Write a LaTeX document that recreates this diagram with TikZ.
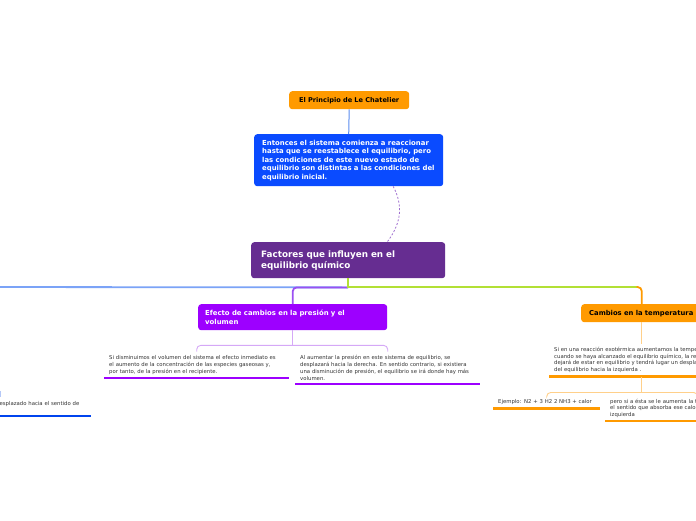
\documentclass[tikz,border=0pt]{standalone}
\usepackage{fontspec}
\setmainfont{DejaVu Sans}
\usetikzlibrary{calc}
\definecolor{cOrange}{HTML}{FF9A00}
\definecolor{cBlue}{HTML}{0A4BFF}
\definecolor{cMain}{HTML}{662D91}
\definecolor{cViolet}{HTML}{9D00FF}
\definecolor{cLineBlue}{HTML}{7BA3F7}
\definecolor{cLineViolet}{HTML}{9B50F2}
\definecolor{cLineGreen}{HTML}{B2E035}
\definecolor{cTopLine}{HTML}{5B8DEF}
\definecolor{cDash}{HTML}{A070D0}
\definecolor{cBrkViolet}{HTML}{D5A8F7}
\definecolor{cBrkOrange}{HTML}{FFD08A}
\definecolor{cBrkBlue}{HTML}{B5C8F7}
\definecolor{cUlBlue}{HTML}{0044EE}
\definecolor{cText}{HTML}{333333}
\begin{document}
\begin{tikzpicture}[x=1pt,y=-1pt,
  box/.style={rounded corners=3pt, anchor=north west, inner ysep=0pt, align=left},
  txt/.style={font=\fontsize{5.35}{6.9}\selectfont, text=cText, align=left, inner xsep=5pt, inner ysep=3.5pt},
  branch/.style={line width=1.8pt, rounded corners=4pt},
  brk/.style={line width=0.9pt, rounded corners=4pt},
  ul/.style={line width=2.6pt}
]
\clip (0,0) rectangle (696,520);
\fill[white] (0,0) rectangle (696,520);

% boxes
\node[box, fill=cOrange, text=black, text width=106pt, inner xsep=7pt, minimum height=18pt, align=center,
  font=\bfseries\fontsize{6.6}{7.5}\selectfont] (lec) at (289,91) {\mbox{El Principio de Le Chatelier}};
\node[box, fill=cBlue, text=white, text width=173pt, inner xsep=8pt, minimum height=52pt,
  font=\bfseries\fontsize{6.9}{8.5}\selectfont] (blue) at (254,134)
  {\mbox{Entonces el sistema comienza a reaccionar}\\ \mbox{hasta que se reestablece el equilibrio, pero}\\ \mbox{las condiciones de este nuevo estado de}\\ \mbox{equilibrio son distintas a las condiciones del}\\ \mbox{equilibrio inicial.}};
\node[box, fill=cMain, text=white, text width=174pt, inner xsep=10pt, minimum height=36pt,
  font=\bfseries\fontsize{8.8}{11}\selectfont] (main) at (251,242)
  {Factores que influyen en el\\ equilibrio químico};
\node[box, fill=cViolet, text=white, text width=175pt, inner xsep=7pt, minimum height=26pt,
  font=\bfseries\fontsize{6.9}{9}\selectfont] (efecto) at (198,304)
  {\mbox{Efecto de cambios en la presión y el}\\ volumen};
\node[box, fill=cOrange, text=black, text width=105pt, inner xsep=8pt, minimum height=18pt,
  font=\bfseries\fontsize{6.8}{8}\selectfont] (cambios) at (581,304)
  {\mbox{Cambios en la temperatura}};

% text nodes
\node[txt, text width=175pt, anchor=south west] (tA) at (104,378)
  {\mbox{Si disminuimos el volumen del sistema el efecto inmediato es}\\ \mbox{el aumento de la concentración de las especies gaseosas y,}\\ \mbox{por tanto, de la presión en el recipiente.}};
\node[txt, text width=175pt, anchor=south west] (tB) at (295,384)
  {\mbox{Al aumentar la presión en este sistema de equilibrio, se}\\ \mbox{desplazará hacia la derecha. En sentido contrario, si existiera}\\ \mbox{una disminución de presión, el equilibrio se irá donde hay más}\\ volumen.};
\node[txt, text width=90pt, anchor=south west] (tC) at (-9,416)
  {\mbox{desplazado hacia el sentido de}\\\mbox{}};
\node[txt, font=\fontsize{5.35}{6.7}\selectfont, anchor=south west] (tT) at (549,376.5)
  {Si en una reacción exotérmica aumentamos la temperatura,\\ cuando se haya alcanzado el equilibrio químico, la reacción\\ dejará de estar en equilibrio y tendrá lugar un desplazamiento\\ del equilibrio hacia la izquierda .};
\node[txt, text width=97pt, anchor=south west] (tE) at (493,408.5)
  {\mbox{Ejemplo: N2 + 3 H2 2 NH3 + calor}};
\node[txt, font=\fontsize{5.35}{6.5}\selectfont, text width=175pt, anchor=south west] (tP) at (605,421)
  {\mbox{pero si a ésta se le aumenta la temperatura, se desplazará hacia}\\ \mbox{el sentido que absorba ese calor, es decir, hacia la}\\ izquierda};

% main connectors
\draw[cTopLine, line width=1pt] (lec.south) -- (blue.north);
\draw[cDash, line width=0.8pt, dash pattern=on 2pt off 1.8pt]
  ($(blue.south)+(44.5,0)$) .. controls ($(blue.south)+(54,18)$) and ($(main.north)+(54,-20)$) .. ($(main.north)+(39,0)$);

\coordinate (hub) at ($(main.south)+(0,9)$);
\coordinate (leftend) at (-20,287);
\draw[branch, cLineBlue] (hub) -- (leftend);
\draw[branch, cLineViolet] (hub) -| (efecto.north);
\draw[line width=1.8pt, cLineGreen] (main.south) |- ($(cambios.north)+(-5,-17)$) coordinate (gturn);
\draw[branch, cOrange] (gturn) -| (cambios.north);

% efecto bracket
\coordinate (ebr) at ($(efecto.south)+(0,15)$);
\draw[brk, cBrkViolet] (efecto.south) -- (ebr);
\draw[brk, cBrkViolet] (tA.north) |- (ebr) -| (tB.north);

% underlines
\draw[ul, cViolet] (tA.south west) -- (tA.south east);
\draw[ul, cViolet] (tB.south west) -- (tB.south east);
\draw[ul, cUlBlue] (tC.south west) -- (tC.south east);
\draw[ul, cOrange] (tT.south west) -- (tT.south east);
\draw[ul, cOrange] (tE.south west) -- (tE.south east);
\draw[ul, cOrange] (tP.south west) -- (tP.south east);

% temperature connectors
\draw[brk, cBrkOrange] (cambios.south) -- (cambios.south |- tT.north);
\coordinate (tbr) at ($(tT.south -| cambios.south)+(0,16)$);
\draw[brk, cBrkOrange] (tT.south -| cambios.south) -- (tbr);
\draw[brk, cBrkOrange] (tE.north) |- (tbr) -| (tP.north);

% left stub
\coordinate (ls1) at (0.5,391);
\coordinate (ls2) at (0.5,397);
\draw[line width=1pt, cBrkBlue] (ls1) -- (ls2);
\end{tikzpicture}
\end{document}
